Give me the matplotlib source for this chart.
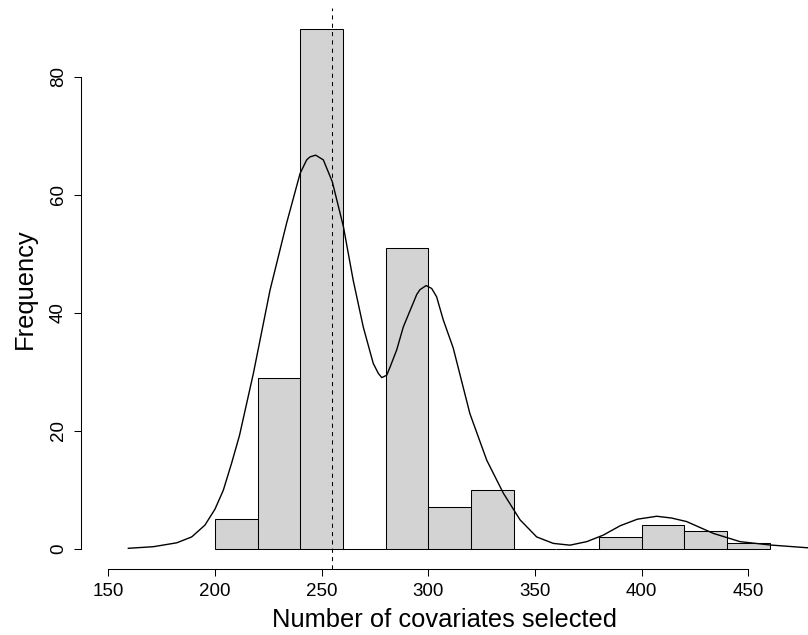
import numpy as np
import matplotlib
matplotlib.use("Agg")
import matplotlib.pyplot as plt

plt.rcParams['font.family'] = ['Liberation Sans', 'DejaVu Sans']

# histogram of selected covariate counts
bin_left = [200, 220, 240, 260, 280, 300, 320, 340, 360, 380, 400, 420, 440]
counts = [5, 29, 88, 0, 51, 7, 10, 0, 0, 2, 4, 3, 1]
bin_width = 20
median_line = 255

# density curve (scaled to counts)
dens_x = [159.4, 171.1, 182.1, 189.1, 195.3, 200.0, 203.9, 207.8, 211.5, 218.0,
          225.8, 233.6, 239.9, 243.0, 244.5, 247.2, 250.8, 255.0, 260.2, 264.8,
          269.5, 274.2, 276.6, 278.2, 280.5, 282.1, 285.2, 288.3, 294.6, 296.1,
          299.0, 301.6, 303.9, 307.0, 311.7, 319.5, 327.4, 335.2, 343.0, 350.8,
          358.6, 366.4, 374.3, 382.0, 390.0, 398.0, 407.1, 414.0, 421.1, 433.6,
          446.1, 460.2, 477.4, 490.0]
dens_y = [0.07, 0.34, 1.0, 2.0, 4.0, 6.7, 9.9, 14.5, 19.2, 29.7,
          43.8, 55.2, 63.6, 65.9, 66.4, 66.7, 65.9, 62.2, 54.6, 45.5,
          37.6, 31.4, 29.7, 29.0, 29.4, 30.8, 33.7, 37.6, 43.1, 43.9,
          44.6, 44.1, 42.7, 38.8, 34.0, 22.9, 15.0, 9.4, 4.9, 2.0,
          0.9, 0.6, 1.2, 2.3, 3.9, 5.0, 5.5, 5.2, 4.6, 2.6,
          1.2, 0.63, 0.17, 0.05]

xticks = [150, 200, 250, 300, 350, 400, 450]
yticks = [0, 20, 40, 60, 80]

W, H = 808, 635
fig = plt.figure(figsize=(W / 100, H / 100), dpi=100)
left_px, right_px, top_px, bottom_px = 81, 808, 8, 569.3
ax = fig.add_axes([left_px / W, 1 - bottom_px / H,
                   (right_px - left_px) / W, (bottom_px - top_px) / H])

ax.bar(bin_left, counts, width=bin_width, align='edge', color='#d3d3d3',
       edgecolor='black', linewidth=0.75)
ax.plot(dens_x, dens_y, color='black', linewidth=1.0)
ax.axvline(median_line, color='black', linewidth=0.75, linestyle=(0, (4, 4)))

ax.set_xlim(137.2, 478.0)
ax.set_ylim(-3.49, 91.64)

for s in ['top', 'right']:
    ax.spines[s].set_visible(False)
ax.spines['left'].set_bounds(0, 80)
ax.spines['bottom'].set_bounds(150, 450)
for s in ['left', 'bottom']:
    ax.spines[s].set_linewidth(0.75)

ax.set_xticks(xticks)
ax.set_yticks(yticks)
ax.tick_params(direction='out', length=5, width=0.75, labelsize=13.5)
ax.tick_params(axis='x', pad=5)
ax.tick_params(axis='y', pad=5)
for lab in ax.get_yticklabels():
    lab.set_rotation(90)
    lab.set_va('center')

ax.set_xlabel('Number of covariates selected', fontsize=18.4)
ax.set_ylabel('Frequency', fontsize=18.4)
ax.xaxis.set_label_coords(0.5, (bottom_px - 620) / (bottom_px - top_px))
ax.xaxis.label.set_va('center')
ax.yaxis.set_label_coords((25 - left_px) / (right_px - left_px), 0.5)
ax.yaxis.label.set_va('center')

fig.savefig('out.png', dpi=100)
